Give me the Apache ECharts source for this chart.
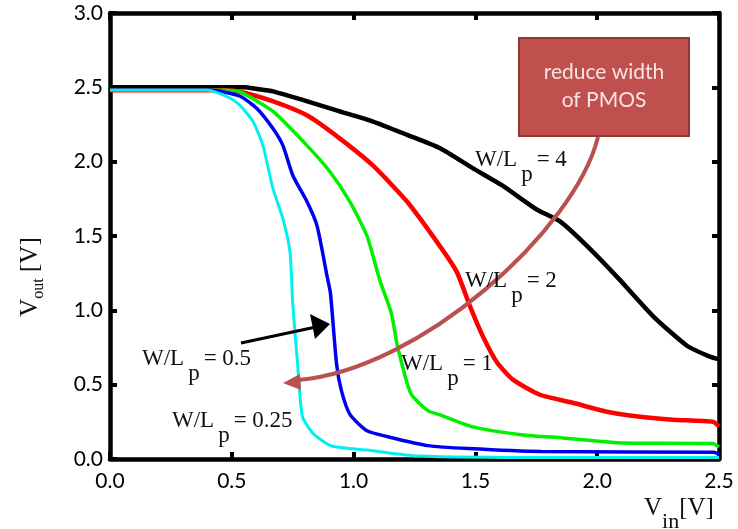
<!DOCTYPE html>
<html>
<head>
<meta charset="utf-8">
<script src="https://cdn.jsdelivr.net/npm/echarts@6/dist/echarts.min.js"></script>
<style>html,body{margin:0;padding:0;background:#fff;}#c{width:738px;height:529px;}</style>
</head>
<body>
<div id="c"></div>
<script>
// W/L = 4 (black)
const x4 = [0, 0.55, 0.6, 0.67, 0.8, 0.94, 1.08, 1.22, 1.355, 1.49, 1.61, 1.75, 1.85, 1.96, 2.09, 2.23, 2.37, 2.46, 2.5];
const y4 = [2.5, 2.5, 2.49, 2.473, 2.41, 2.34, 2.27, 2.18, 2.09, 1.955, 1.84, 1.68, 1.595, 1.43, 1.21, 0.96, 0.76, 0.69, 0.67];
// W/L = 2 (red)
const x2 = [0, 0.48, 0.534, 0.67, 0.81, 0.944, 1.08, 1.22, 1.355, 1.424, 1.478, 1.531, 1.589, 1.654, 1.765, 1.9, 2.04, 2.176, 2.31, 2.475, 2.5];
const y2 = [2.48, 2.48, 2.47, 2.405, 2.31, 2.155, 1.973, 1.73, 1.43, 1.257, 1.027, 0.824, 0.649, 0.534, 0.432, 0.378, 0.318, 0.284, 0.264, 0.25, 0.22];
// W/L = 1 (green)
const x1 = [0, 0.47, 0.534, 0.669, 0.809, 0.903, 0.985, 1.055, 1.108, 1.155, 1.18, 1.235, 1.305, 1.355, 1.49, 1.695, 1.86, 2.106, 2.475, 2.5];
const y1 = [2.48, 2.48, 2.47, 2.338, 2.108, 1.932, 1.73, 1.50, 1.20, 0.98, 0.76, 0.44, 0.325, 0.297, 0.216, 0.162, 0.142, 0.108, 0.105, 0.08];
// W/L = 0.5 (blue)
const x05 = [0, 0.42, 0.534, 0.603, 0.669, 0.71, 0.751, 0.809, 0.85, 0.891, 0.905, 0.93, 0.95, 0.985, 1.055, 1.14, 1.305, 1.47, 1.77, 2.48, 2.5];
const y05 = [2.48, 2.48, 2.44, 2.358, 2.223, 2.108, 1.905, 1.73, 1.568, 1.23, 1.115, 0.64, 0.46, 0.30, 0.19, 0.15, 0.09, 0.07, 0.05, 0.045, 0.03];
// W/L = 0.25 (cyan)
const x025 = [0, 0.40, 0.49, 0.534, 0.587, 0.628, 0.669, 0.71, 0.739, 0.75, 0.77, 0.79, 0.835, 0.905, 0.985, 1.055, 1.265, 1.81, 2.5];
const y025 = [2.48, 2.48, 2.43, 2.378, 2.27, 2.108, 1.818, 1.615, 1.392, 1.05, 0.64, 0.285, 0.17, 0.09, 0.07, 0.06, 0.02, 0.01, 0.01];

const xTicks = [0, 0.5, 1.0, 1.5, 2.0, 2.5];
const yTicks = [0, 0.5, 1.0, 1.5, 2.0, 2.5, 3.0];

const pairs = (xs, ys) => xs.map((x, i) => [x, ys[i]]);

const chart = echarts.init(document.getElementById('c'), null, {renderer: 'canvas'});
const labelFont = 'Lato, "Open Sans", sans-serif';
const serif = '"Liberation Serif", "DejaVu Serif", serif';

function mkSeries(data, color, width) {
  return {type: 'line', data: data, symbol: 'none', smooth: 0.2,
    lineStyle: {color: color, width: width}, animation: false, z: 3};
}

const axisLineStyle = {color: '#000', width: 4.5};
const tickStyle = {show: true, inside: true, length: 7, lineStyle: {color: '#000', width: 4}};

function annot(x, y, val) {
  return {type: 'text', x: x, y: y, z: 10,
    style: {text: '{a|W/L}{b|p}{a|= ' + val + '}', verticalAlign: 'middle', align: 'left',
      rich: {a: {fontFamily: serif, fontSize: 23, fill: '#111'},
             b: {fontFamily: serif, fontSize: 23, fill: '#111', padding: [30, 4, 0, 4]}}}};
}

chart.setOption({
  animation: false,
  backgroundColor: '#fff',
  grid: {left: 110, right: 19, top: 13, bottom: 70, show: false},
  xAxis: [
    {type: 'value', min: 0, max: 2.5, interval: 0.5, position: 'bottom',
     axisLine: {show: true, onZero: false, lineStyle: axisLineStyle},
     axisTick: tickStyle, splitLine: {show: false},
     axisLabel: {fontSize: 21, color: '#000', fontFamily: labelFont, margin: 12,
       formatter: v => v.toFixed(1)}},
    {type: 'value', min: 0, max: 2.5, interval: 0.5, position: 'top',
     axisLine: {show: true, onZero: false, lineStyle: axisLineStyle},
     axisTick: tickStyle, splitLine: {show: false}, axisLabel: {show: false}}
  ],
  yAxis: [
    {type: 'value', min: 0, max: 3.0, interval: 0.5, position: 'left',
     axisLine: {show: true, onZero: false, lineStyle: axisLineStyle},
     axisTick: tickStyle, splitLine: {show: false},
     axisLabel: {fontSize: 21, color: '#000', fontFamily: labelFont, margin: 7,
       padding: [11, 0, 0, 0], formatter: v => v.toFixed(1)}},
    {type: 'value', min: 0, max: 3.0, interval: 0.5, position: 'right',
     axisLine: {show: true, onZero: false, lineStyle: axisLineStyle},
     axisTick: tickStyle, splitLine: {show: false}, axisLabel: {show: false}}
  ],
  series: [
    mkSeries(pairs(x4, y4), '#000000', 4.5),
    mkSeries(pairs(x2, y2), '#FF0000', 4.5),
    mkSeries(pairs(x1, y1), '#00F000', 3.5),
    mkSeries(pairs(x05, y05), '#0000F0', 3.5),
    mkSeries(pairs(x025, y025), '#00F0F0', 3)
  ],
  graphic: [
    // y-axis title
    {type: 'text', x: 30, y: 277, rotation: Math.PI / 2, z: 10,
     style: {text: '{v|V}{s|out}{v| [V]}', align: 'center', verticalAlign: 'middle',
       rich: {v: {fontFamily: serif, fontSize: 25, fill: '#111'},
              s: {fontFamily: serif, fontSize: 16, fill: '#111', padding: [18, 0, 0, 0]}}}},
    // x-axis title
    {type: 'text', x: 644, y: 508, z: 10,
     style: {text: '{v|V}{s|in}{v|[V]}', align: 'left', verticalAlign: 'middle',
       rich: {v: {fontFamily: serif, fontSize: 25, fill: '#111'},
              s: {fontFamily: serif, fontSize: 22, fill: '#111', padding: [28, 0, 0, 0]}}}},
    annot(475, 160, '4'),
    annot(465, 281, '2'),
    annot(401, 364, '1'),
    annot(142, 359, '0.5'),
    annot(172, 421, '0.25'),
    // curved red arrow
    {type: 'bezierCurve', z: 8,
     shape: {x1: 598, y1: 137, cpx1: 575, cpy1: 230, cpx2: 420, cpy2: 370, x2: 298, y2: 380},
     style: {stroke: '#B9524F', lineWidth: 4, fill: null}},
    {type: 'polygon', z: 8,
     shape: {points: [[283, 383], [300, 374], [301, 390]]},
     style: {fill: '#B9524F'}},
    // black arrow
    {type: 'line', z: 8, shape: {x1: 241, y1: 343, x2: 316, y2: 327},
     style: {stroke: '#000', lineWidth: 3}},
    {type: 'polygon', z: 8,
     shape: {points: [[330, 324], [310, 314], [315, 339]]},
     style: {fill: '#000'}},
    // box
    {type: 'rect', z: 9, shape: {x: 519, y: 38, width: 170, height: 98},
     style: {fill: '#C0504D', stroke: '#8C3A38', lineWidth: 2}},
    {type: 'text', x: 604, y: 86, z: 10,
     style: {text: 'reduce width\nof PMOS', align: 'center', verticalAlign: 'middle',
       fontFamily: labelFont, fontSize: 21, lineHeight: 28, fill: '#F7E4E3'}}
  ]
});
</script>
</body>
</html>
